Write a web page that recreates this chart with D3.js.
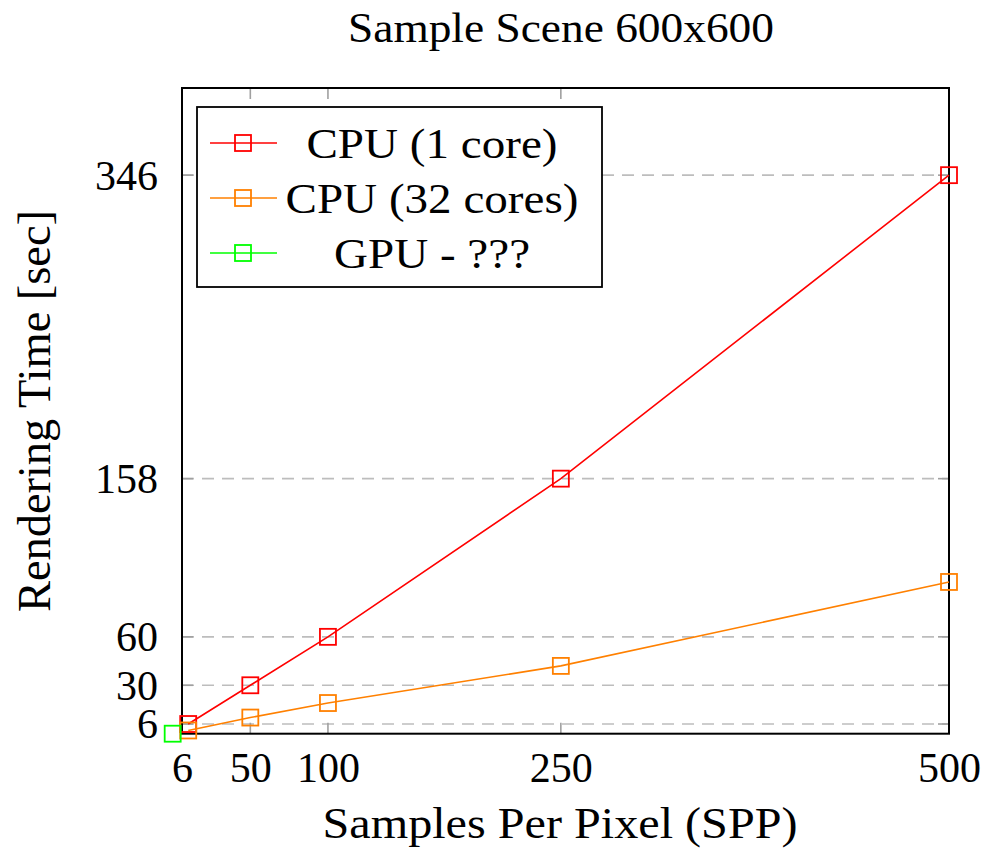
<!DOCTYPE html>
<html><head><meta charset="utf-8">
<script src="https://cdn.jsdelivr.net/npm/d3@7"></script>
<style>body{margin:0;background:#fff}svg{display:block}text{font-family:"Liberation Serif",serif;fill:#000}</style>
</head><body>
<svg id="c" width="988" height="853"></svg>
<script>
const title = "Sample Scene 600x600";
const xLabel = "Samples Per Pixel (SPP)";
const yLabel = "Rendering Time [sec]";
const xTicks = [6, 50, 100, 250, 500];
const yTicks = [6, 30, 60, 158, 346];
const seriesNames = ["CPU (1 core)", "CPU (32 cores)", "GPU - ???"];
const seriesColors = ["#ff0000", "#ff8000", "#00ff00"];
const cpu1X = [10, 50, 100, 250, 500];
const cpu1Y = [6, 30, 60, 158, 346];
const cpu32X = [10, 50, 100, 250, 500];
const cpu32Y = [2, 10, 19, 42, 94];
const gpuX = [0];
const gpuY = [0];

const series = [
  {name: seriesNames[0], color: seriesColors[0], pts: cpu1X.map((x,i)=>[x,cpu1Y[i]])},
  {name: seriesNames[1], color: seriesColors[1], pts: cpu32X.map((x,i)=>[x,cpu32Y[i]])},
  {name: seriesNames[2], color: seriesColors[2], pts: gpuX.map((x,i)=>[x,gpuY[i]])}
];

function stretch(sel, k) {
  sel.each(function() {
    const w = this.getComputedTextLength();
    d3.select(this).attr("textLength", w * k).attr("lengthAdjust", "spacingAndGlyphs");
  });
}

const svg = d3.select("#c");
const L = 182, R = 949, T = 88, B = 733.7;
const x = d3.scaleLinear().domain([6, 500]).range([L, R]);
const y = d3.scaleLinear().domain([0, 400]).range([B, T]);

// grid
svg.append("g").selectAll("line").data(yTicks).join("line")
  .attr("x1", L).attr("x2", R).attr("y1", d=>y(d)).attr("y2", d=>y(d))
  .attr("stroke", "#bdbdbd").attr("stroke-width", 1.6).attr("stroke-dasharray", "12,8");

// ticks inside
const tl = 11;
const tg = svg.append("g").attr("stroke", "#a0a0a0").attr("stroke-width", 1.6);
xTicks.forEach(t => {
  tg.append("line").attr("x1", x(t)).attr("x2", x(t)).attr("y1", B).attr("y2", B - tl);
  tg.append("line").attr("x1", x(t)).attr("x2", x(t)).attr("y1", T).attr("y2", T + tl);
});
yTicks.forEach(t => {
  tg.append("line").attr("x1", L).attr("x2", L + tl).attr("y1", y(t)).attr("y2", y(t));
  tg.append("line").attr("x1", R).attr("x2", R - tl).attr("y1", y(t)).attr("y2", y(t));
});

// frame
svg.append("rect").attr("x", L).attr("y", T).attr("width", R - L).attr("height", B - T)
  .attr("fill", "none").attr("stroke", "#000").attr("stroke-width", 2);

// tick labels via d3 axes
const xAxis = d3.axisBottom(x).tickValues(xTicks).tickSize(0).tickPadding(0).tickFormat(d3.format("d"));
const xg = svg.append("g").attr("transform", `translate(0,${B})`).call(xAxis);
xg.select(".domain").remove();
xg.selectAll("text").attr("y", 48).attr("dy", 0).attr("font-size", 42).style("font-family", '"Liberation Serif",serif');

const yAxis = d3.axisLeft(y).tickValues(yTicks).tickSize(0).tickPadding(0).tickFormat(d3.format("d"));
const yg = svg.append("g").attr("transform", `translate(${L},0)`).call(yAxis);
yg.select(".domain").remove();
yg.selectAll("text").attr("x", -24).attr("dy", "0.33em").attr("font-size", 42).style("font-family", '"Liberation Serif",serif');

// lines & markers
const line = d3.line().x(d=>x(d[0])).y(d=>y(d[1]));
series.forEach(s => {
  svg.append("path").attr("d", line(s.pts)).attr("fill", "none").attr("stroke", s.color).attr("stroke-width", 1.6);
  svg.append("g").selectAll("rect").data(s.pts).join("rect")
    .attr("x", d=>x(d[0]) - 8).attr("y", d=>y(d[1]) - 8).attr("width", 16).attr("height", 16)
    .attr("fill", "none").attr("stroke", s.color).attr("stroke-width", 1.8);
});

// title & labels
svg.append("text").attr("x", 561).attr("y", 42).attr("text-anchor", "middle").attr("font-size", 43)
  .attr("textLength", 426).attr("lengthAdjust", "spacingAndGlyphs").text(title);
svg.append("text").attr("x", 560).attr("y", 838).attr("text-anchor", "middle").attr("font-size", 44)
  .attr("textLength", 475).attr("lengthAdjust", "spacingAndGlyphs").text(xLabel);
svg.append("text").attr("transform", "translate(50,411) rotate(-90)").attr("text-anchor", "middle").attr("font-size", 46)
  .attr("textLength", 402).attr("lengthAdjust", "spacingAndGlyphs").text(yLabel);

// legend
const lg = svg.append("g");
lg.append("rect").attr("x", 197).attr("y", 107).attr("width", 405).attr("height", 180)
  .attr("fill", "#fff").attr("stroke", "#000").attr("stroke-width", 1.8);
series.forEach((s, i) => {
  const cy = 143 + i * 55;
  lg.append("line").attr("x1", 210).attr("x2", 277).attr("y1", cy).attr("y2", cy).attr("stroke", s.color).attr("stroke-width", 1.6);
  lg.append("rect").attr("x", 235).attr("y", cy - 8).attr("width", 16).attr("height", 16)
    .attr("fill", "none").attr("stroke", s.color).attr("stroke-width", 1.8);
  const t = lg.append("text").attr("x", 432).attr("y", cy).attr("dy", "0.35em").attr("text-anchor", "middle").attr("font-size", 43).text(s.name);
  stretch(t, 1.095);
});
</script>
</body></html>
